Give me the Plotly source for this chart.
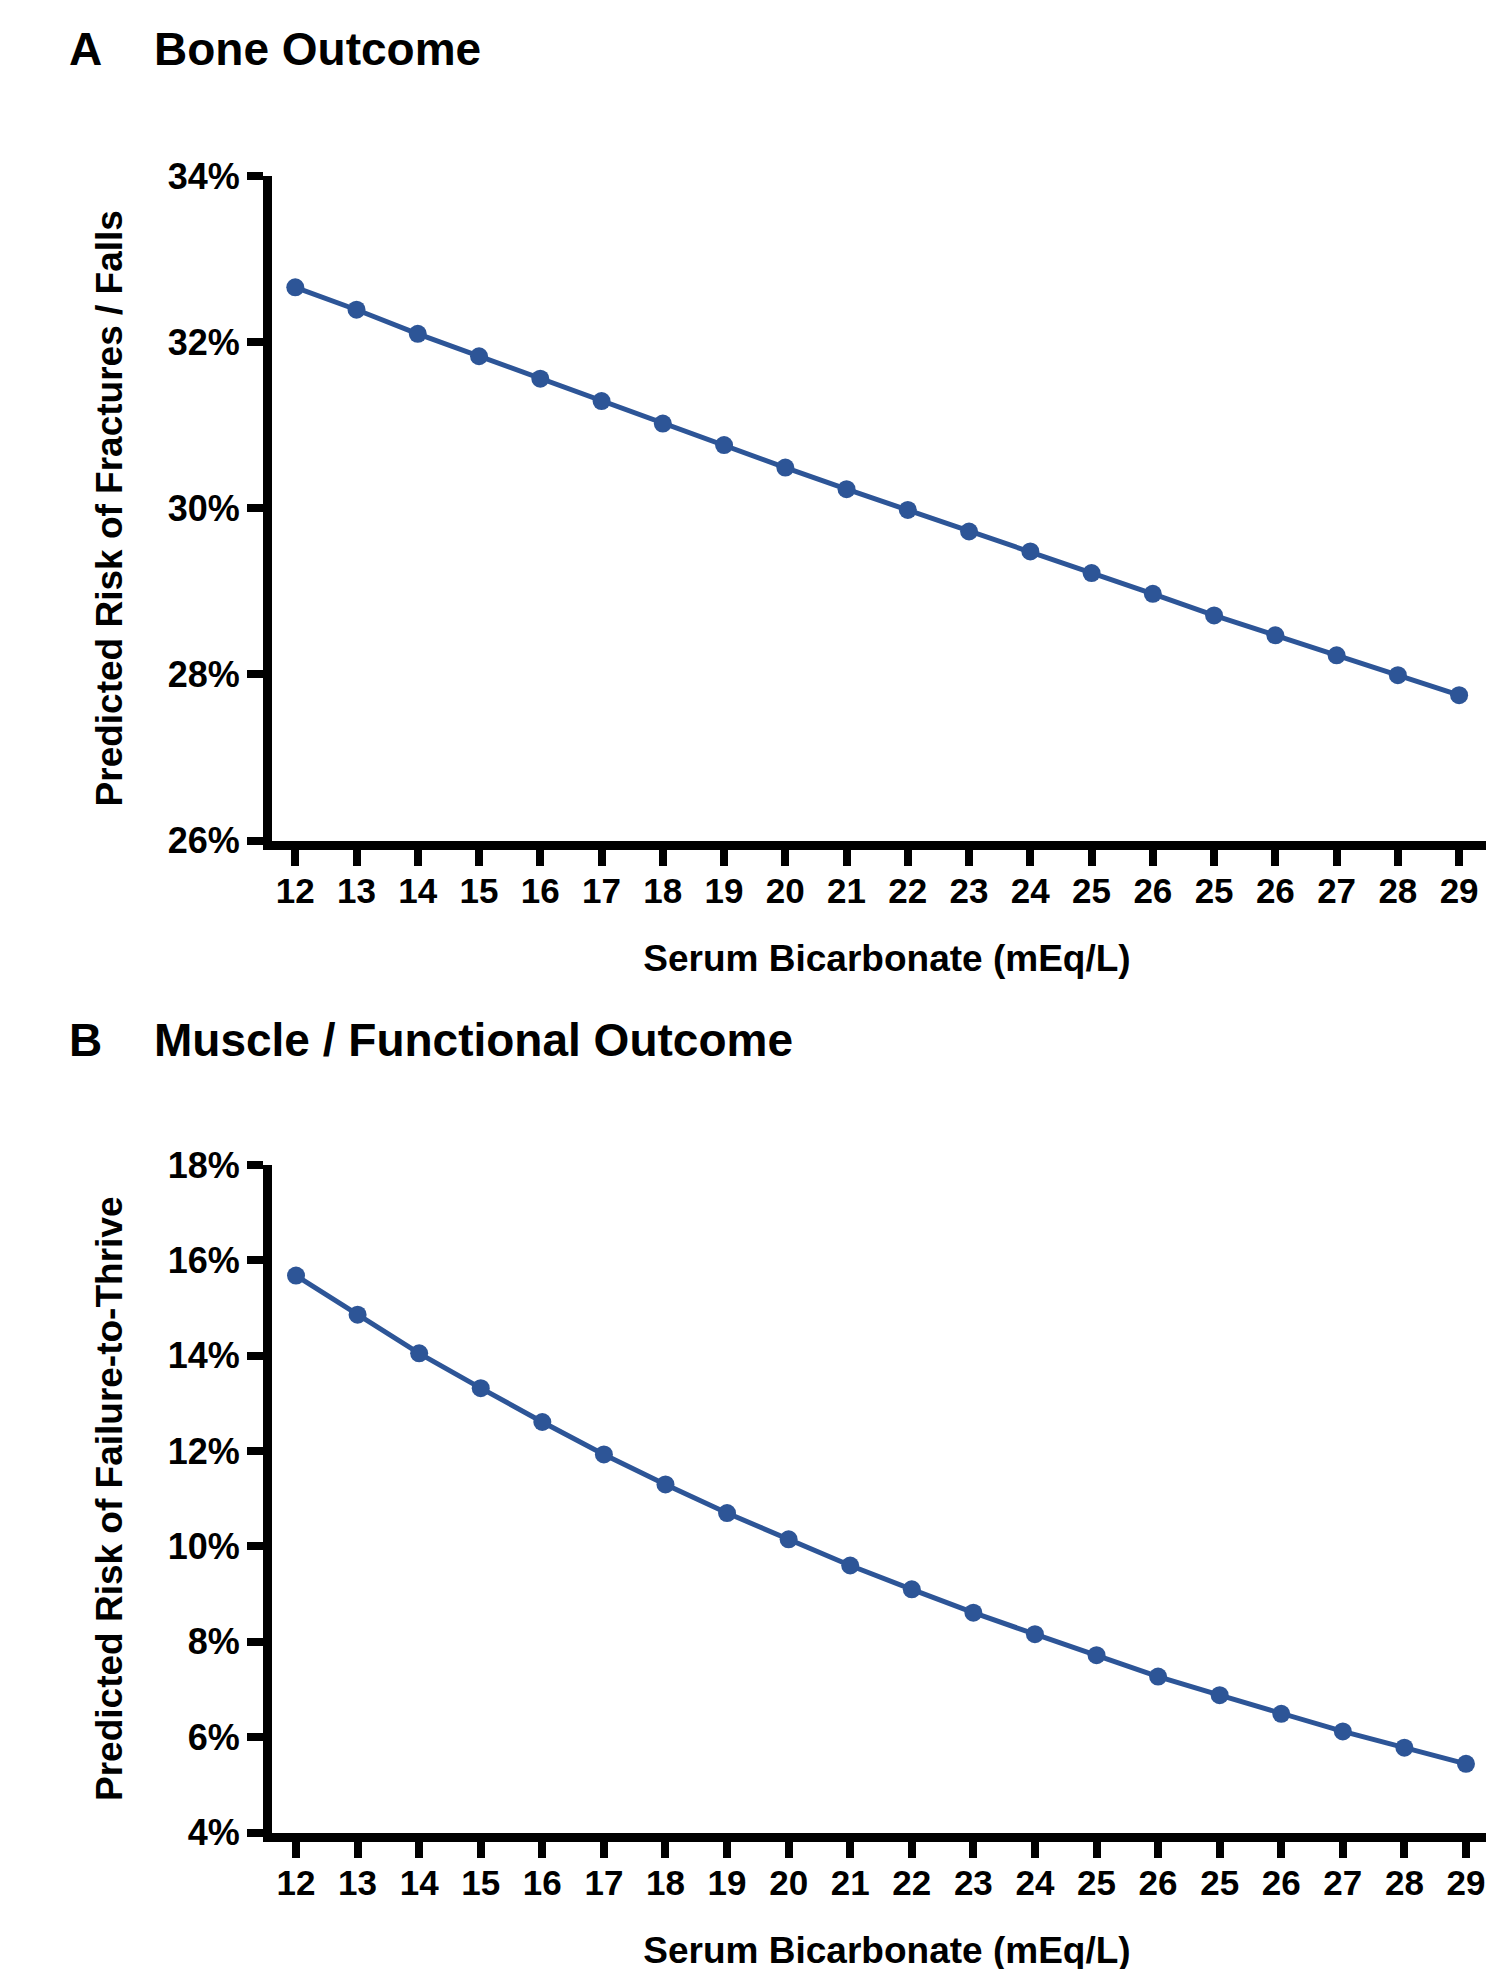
import plotly.graph_objects as go

# ---- data ----
x_labels = ["12", "13", "14", "15", "16", "17", "18", "19", "20", "21",
            "22", "23", "24", "25", "26", "25", "26", "27", "28", "29"]
bone_risk = [32.66, 32.39, 32.10, 31.83, 31.56, 31.29, 31.02, 30.76, 30.49, 30.23,
             29.98, 29.72, 29.48, 29.22, 28.97, 28.71, 28.47, 28.23, 27.99, 27.75]
muscle_risk = [15.68, 14.86, 14.05, 13.32, 12.61, 11.93, 11.30, 10.70, 10.15, 9.60,
               9.10, 8.61, 8.16, 7.72, 7.27, 6.88, 6.49, 6.12, 5.78, 5.44]
bone_yticks = [26, 28, 30, 32, 34]
muscle_yticks = [4, 6, 8, 10, 12, 14, 16, 18]
x_pos = list(range(len(x_labels)))

W, H = 1494, 1969
BLUE = "#2D5597"
FONT = "Liberation Sans, Arial, sans-serif"

fig = go.Figure()
for ax_x, ax_y, vals in [("x", "y", bone_risk), ("x2", "y2", muscle_risk)]:
    fig.add_trace(go.Scatter(x=x_pos, y=vals, xaxis=ax_x, yaxis=ax_y,
                             mode="lines+markers",
                             line=dict(color=BLUE, width=5),
                             marker=dict(color=BLUE, size=18),
                             showlegend=False))

xtickfont = dict(family=FONT, size=35, color="black", weight="bold")
ytickfont = dict(family=FONT, size=36, color="black", weight="bold")
titlefont = dict(family=FONT, size=37, color="black", weight="bold")

LW = 9


def xax(anchor, rng):
    return dict(domain=[264 / W, 1.0], anchor=anchor, range=rng, automargin=False,
                tickmode="array", tickvals=x_pos, ticktext=x_labels,
                ticks="outside", ticklen=16, tickwidth=8, tickcolor="black",
                ticklabelstandoff=-5,
                showline=True, linewidth=LW, linecolor="black",
                showgrid=False, zeroline=False, tickfont=xtickfont,
                title=dict(text="Serum Bicarbonate (mEq/L)", font=titlefont, standoff=40))


def yax(domain, anchor, rng, ticks, title):
    return dict(domain=domain, anchor=anchor, range=rng, automargin=False,
                tickmode="array", tickvals=ticks, ticktext=[f"{t}%" for t in ticks],
                ticks="outside", ticklen=16, tickwidth=8, tickcolor="black",
                showline=True, linewidth=LW, linecolor="black",
                showgrid=False, zeroline=False, tickfont=ytickfont,
                title=dict(text=title, font=titlefont, standoff=37))


fig.update_layout(
    width=W, height=H,
    margin=dict(l=0, r=0, t=0, b=0, autoexpand=False),
    paper_bgcolor="white", plot_bgcolor="white",
    xaxis=xax("y", [-0.38, 19.70]),
    yaxis=yax([1 - 832.5 / H, 1 - 168 / H], "x", [26, 34], bone_yticks,
              "Predicted Risk of Fractures / Falls"),
    xaxis2=xax("y2", [-0.39, 19.585]),
    yaxis2=yax([1 - 1824.5 / H, 1 - 1157 / H], "x2", [4, 18], muscle_yticks,
               "Predicted Risk of Failure-to-Thrive"),
)

panel_font = dict(family=FONT, size=46, color="black", weight="bold")
for letter, title, ypx in [("A", "Bone Outcome", 41), ("B", "Muscle / Functional Outcome", 1032)]:
    fig.add_annotation(text=letter, x=59 / W, y=1 - ypx / H, xref="paper", yref="paper",
                       xanchor="left", yanchor="middle", showarrow=False, font=panel_font)
    fig.add_annotation(text=title, x=144 / W, y=1 - ypx / H, xref="paper", yref="paper",
                       xanchor="left", yanchor="middle", showarrow=False, font=panel_font)

fig.write_html("out.html")
